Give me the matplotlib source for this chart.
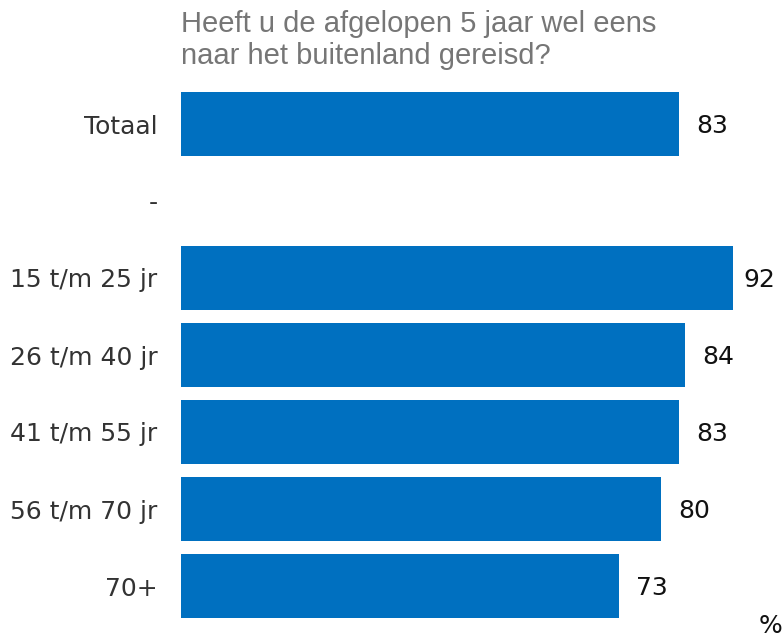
import numpy as np
import matplotlib.pyplot as plt

categories = ['Totaal', '-', '15 t/m 25 jr', '26 t/m 40 jr', '41 t/m 55 jr', '56 t/m 70 jr', '70+']
values = [83, None, 92, 84, 83, 80, 73]

title = 'Heeft u de afgelopen 5 jaar wel eens\nnaar het buitenland gereisd?'
bar_color = '#0070C0'

fig = plt.figure(figsize=(7.82, 6.38), dpi=100)
ax = fig.add_axes([181 / 782, 1 - 624.5 / 638, 600 / 782, 539 / 638])

index = np.arange(len(categories))
for i, v in zip(index, values):
    if v is None:
        continue
    ax.barh(i, v, height=0.82, color=bar_color)
    # label sits right of the bar, pulled in when it would run off the chart
    ax.text(min(v + 2.8, 93.7), i + 0.02, '%d' % v, ha='left', va='center', fontsize=18,
            color='#111111', family='DejaVu Sans')

ax.set_xlim(0, 100)
ax.set_ylim(len(categories) - 0.5, -0.5)
ax.set_yticks(index)
ax.set_yticklabels(categories, fontsize=18, color='#333333', family='DejaVu Sans')
ax.tick_params(axis='y', length=0, pad=17)
ax.set_xticks([])
for s in ax.spines.values():
    s.set_visible(False)

fig.text(181 / 782, 1 - 10 / 638, title, ha='left', va='top', fontsize=21,
         color='#767676', family='Liberation Sans', linespacing=1.2)
fig.text(770 / 782, 1 - 626 / 638, '%', ha='center', va='center', fontsize=18,
         color='#111111', family='DejaVu Sans')

fig.savefig('out.png', dpi=100)
